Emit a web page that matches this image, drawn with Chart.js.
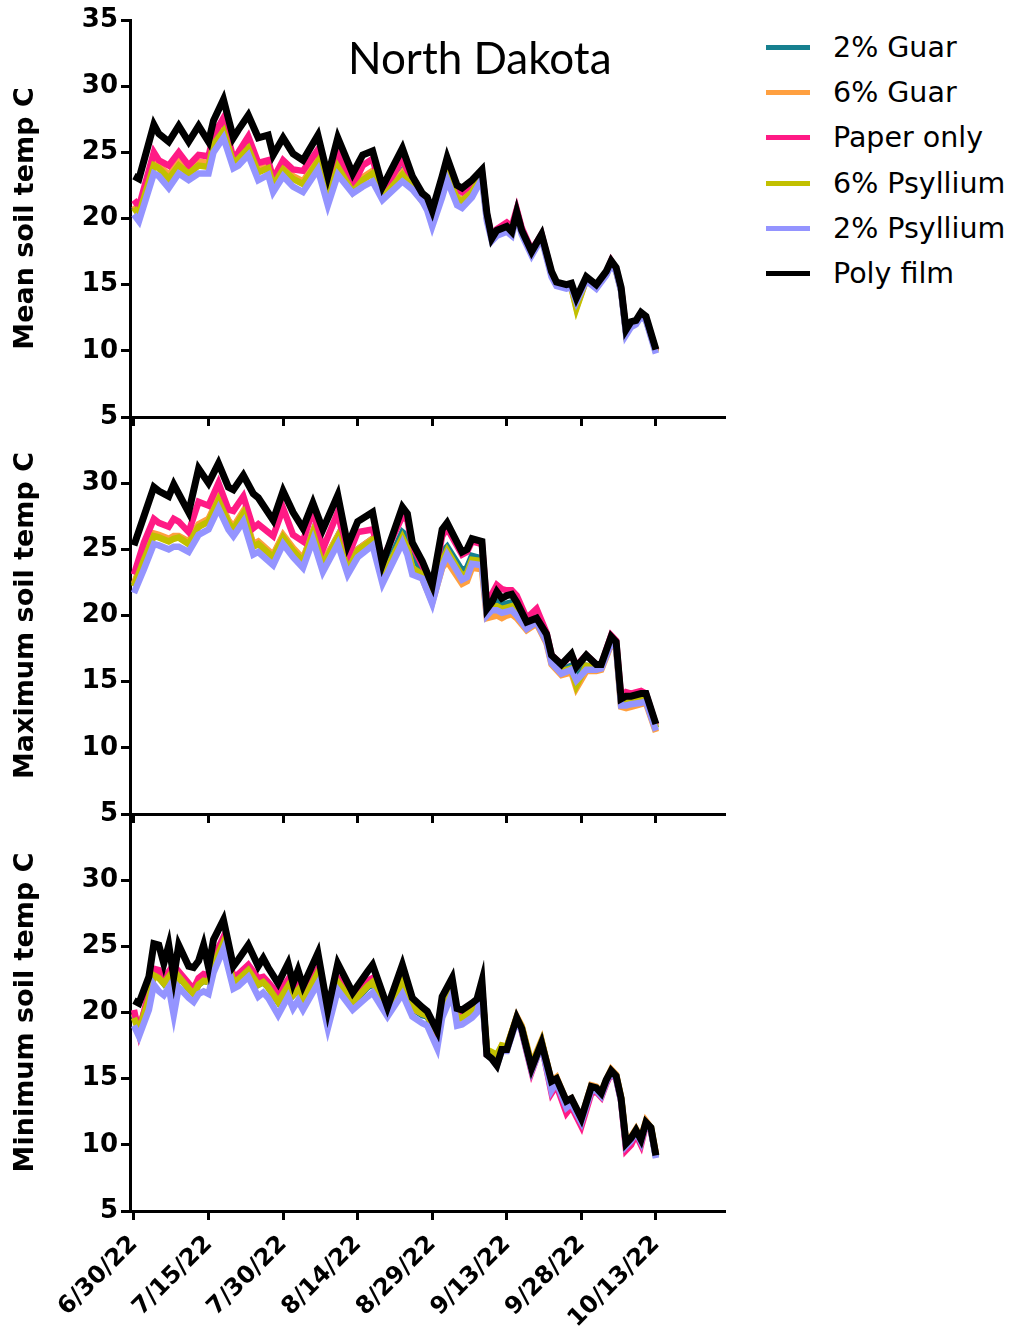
<!DOCTYPE html>
<html>
<head>
<meta charset="utf-8">
<script src="https://cdn.jsdelivr.net/npm/chart.js@4.4.1/dist/chart.umd.min.js"></script>
<style>
  body { margin: 0; background: #fff; width: 1014px; height: 1331px; position: relative; overflow: hidden; }
  canvas { position: absolute; left: 0; }
  #title { position: absolute; left: 348px; top: 35px; font: 44px/44px Lato, sans-serif; color: #000; white-space: nowrap; }
  #legend { position: absolute; left: 766px; top: 25px; }
  .item { display: flex; align-items: center; height: 45.2px; font: 28.5px "DejaVu Sans", sans-serif; color: #000; white-space: nowrap; }
  .swatch { width: 44px; height: 5px; margin-right: 23px; }
</style>
</head>
<body>
<canvas id="meanChart" width="740" height="445" style="top:0px"></canvas>
<canvas id="maxChart" width="740" height="450" style="top:397px"></canvas>
<canvas id="minChart" width="740" height="537" style="top:794px"></canvas>
<div id="title">North Dakota</div>
<div id="legend"></div>

<script>
// series names / colours, in legend order
const names = ['2% Guar', '6% Guar', 'Paper only', '6% Psyllium', '2% Psyllium', 'Poly film'];
const colors = ['#16808f', '#ffa040', '#ff1a85', '#c2c000', '#9494ff', '#000000'];

// x axis: days after 6/30/22
const tickDays = [0, 15, 30, 45, 60, 75, 90, 105];
const tickLabels = ['6/30/22', '7/15/22', '7/30/22', '8/14/22', '8/29/22', '9/13/22', '9/28/22', '10/13/22'];
const yTicks = [5, 10, 15, 20, 25, 30, 35];

// ---- Mean soil temp ----
const meanDays = [0,1,4,5,7,9,11,13,15,16,18,20,21,23,25,27,28,30,32,34,37,39,41,44,46,48,50,54,56,58,59,60,62,63,65,66,68,70,71,72,73,75,76,77,78,80,82,84,85,87,88,89,91,93,95,96,97,98,99,100,101,102,103,105];
const meanGuar2 = [20.9,20.4,24.2,23.9,23.2,24.2,23.5,24.2,24.1,25.7,26.7,24.3,24.6,25.4,23.7,23.9,22.6,23.8,23.1,22.7,24.4,21.6,24.0,22.1,23.0,23.5,21.7,23.6,22.5,21.4,21.0,20.0,22.2,23.3,21.6,21.4,22.1,23.3,20.1,18.6,19.0,19.3,19.0,20.5,19.1,17.4,18.7,15.8,15.1,14.8,14.9,13.6,15.4,14.8,15.8,16.7,16.1,14.6,11.4,12.0,12.2,12.7,12.4,10.0];
const meanGuar6 = [21.0,20.5,24.3,24.0,23.3,24.3,23.6,24.3,24.2,25.8,26.8,24.4,24.7,25.5,23.8,24.0,22.7,23.9,23.2,22.8,24.5,21.7,24.1,22.1,23.1,23.6,21.7,23.5,22.5,21.4,21.0,20.0,22.2,23.4,21.6,21.4,22.1,23.3,20.1,18.5,18.9,19.2,18.9,20.4,19.0,17.4,18.6,15.8,15.0,14.8,14.8,13.3,15.4,14.8,15.8,16.7,16.1,14.6,11.4,12.0,12.1,12.7,12.4,10.0];
const meanPaper = [21.4,20.9,25.0,24.4,24.0,25.0,24.0,24.8,24.7,26.3,27.6,24.5,25.0,26.2,24.2,24.4,23.0,24.4,23.7,23.6,25.2,22.2,24.9,22.4,24.0,24.5,21.9,24.5,22.8,21.4,21.2,20.2,22.6,24.0,22.2,22.0,22.6,23.5,20.3,18.6,19.2,19.7,19.4,20.7,19.3,17.6,18.8,15.9,15.1,14.8,14.9,13.8,15.5,14.9,15.9,16.8,16.2,14.7,11.5,12.0,12.2,12.8,12.5,10.0];
const meanPsyl6 = [20.8,20.3,24.0,23.8,23.0,24.0,23.4,24.0,23.9,25.6,26.6,24.2,24.5,25.3,23.5,23.8,22.5,23.7,23.0,22.6,24.3,21.5,23.9,22.0,22.9,23.4,21.6,23.3,22.4,21.3,20.9,19.9,22.1,23.2,21.5,21.3,22.0,23.2,20.0,18.5,18.9,19.2,18.9,20.4,19.0,17.4,18.6,15.8,15.0,14.8,14.8,13.2,15.4,14.8,15.8,16.7,16.1,14.6,11.4,12.0,12.1,12.7,12.4,9.9];
const meanPsyl2 = [20.3,19.8,23.4,23.2,22.3,23.4,22.9,23.4,23.4,25.0,26.1,23.8,24.0,24.8,22.9,23.3,22.0,23.2,22.4,22.0,23.7,21.0,23.3,21.9,22.4,22.8,21.4,22.8,22.2,21.3,20.6,19.4,21.6,22.9,21.0,20.8,21.6,23.0,19.8,18.3,18.7,19.0,18.7,20.2,18.8,17.2,18.5,15.6,14.9,14.7,14.8,13.7,15.3,14.7,15.7,16.5,16.0,14.5,11.2,11.8,12.0,12.6,12.3,9.8];
const meanPoly = [23.2,23.0,27.1,26.4,25.8,27.0,25.8,27.0,25.8,27.4,29.0,26.1,26.7,27.8,26.1,26.3,24.8,26.1,24.9,24.4,26.3,23.2,26.1,23.4,24.8,25.1,22.4,25.3,23.2,21.9,21.6,20.6,23.2,24.6,22.5,22.3,22.9,23.7,20.4,18.5,19.1,19.4,19.0,20.5,19.1,17.5,18.8,16.0,15.2,15.0,15.1,14.0,15.6,15.0,16.0,16.8,16.3,14.8,11.6,12.2,12.3,12.9,12.6,10.1];

// ---- Maximum soil temp ----
const maxDays = [0,2,4,5,7,8,9,11,13,15,17,19,20,22,24,25,28,30,32,34,36,38,41,43,45,48,50,54,55,56,58,60,62,63,66,67,68,70,71,72,73,74,75,76,77,79,81,83,84,86,88,89,91,93,94,96,97,98,99,100,102,103,105];
const maxGuar2 = [22.3,24.3,26.1,26.0,25.7,25.9,25.9,25.5,26.8,27.2,28.8,27.1,26.6,27.8,25.3,25.5,24.5,26.0,25.0,24.2,26.3,23.9,26.0,23.5,25.0,25.8,23.0,26.3,26.0,24.5,23.4,21.6,24.8,25.2,23.4,23.6,24.5,24.3,20.3,20.8,21.0,20.8,20.9,21.0,20.6,19.3,19.8,18.3,16.7,15.9,16.2,15.3,16.2,16.1,16.2,18.2,17.8,13.4,13.5,13.6,13.7,13.8,11.5];
const maxGuar6 = [22.4,24.4,26.2,26.1,25.8,26.0,26.0,25.6,26.9,27.3,28.9,27.2,26.7,27.9,25.4,25.6,24.6,26.1,25.1,24.3,26.3,24.0,26.0,23.5,25.0,25.8,22.9,25.8,25.0,23.5,22.8,21.0,23.6,24.1,22.4,22.6,23.6,23.5,19.8,19.9,20.0,19.8,20.0,20.1,19.8,18.9,19.4,17.9,16.3,15.5,15.7,14.5,15.8,15.8,15.9,17.8,17.5,13.1,13.0,13.1,13.3,13.4,11.2];
const maxPaper = [23.1,25.5,27.3,27.0,26.7,27.3,27.1,26.3,28.6,28.3,30.0,28.0,27.9,29.0,26.6,26.9,26.0,28.1,26.1,25.6,28.0,25.0,27.8,24.4,26.3,26.5,24.2,27.5,27.2,25.3,23.8,22.2,26.0,26.6,24.6,24.8,25.6,25.4,20.8,21.6,22.3,22.0,21.9,21.9,21.5,19.8,20.5,18.7,17.0,16.3,17.0,16.2,17.0,16.3,16.3,18.5,18.1,13.8,14.2,14.1,14.3,14.1,11.7];
const maxPsyl6 = [22.2,24.2,26.0,25.9,25.6,25.8,25.9,25.4,26.7,27.1,28.7,27.0,26.5,27.7,25.2,25.4,24.4,25.9,24.9,24.1,26.2,23.8,25.9,23.4,24.9,25.7,22.8,25.9,25.1,23.6,23.1,21.4,24.1,24.9,23.0,23.2,24.2,24.1,20.2,20.6,20.7,20.5,20.6,20.7,20.3,19.2,19.7,18.2,16.6,15.8,16.0,14.7,16.2,16.1,16.2,18.1,17.8,13.4,13.5,13.6,13.7,13.7,11.5];
const maxPsyl2 = [21.7,23.5,25.4,25.3,25.0,25.2,25.2,24.8,26.1,26.5,28.1,26.5,26.0,27.1,24.6,24.8,23.8,25.4,24.4,23.6,25.7,23.3,25.4,23.1,24.4,25.3,22.4,25.5,24.6,23.1,22.8,20.9,23.7,24.6,22.7,22.9,23.9,23.8,20.0,20.4,20.4,20.2,20.3,20.4,20.0,19.0,19.5,18.0,16.4,15.6,15.9,15.1,15.9,15.9,16.0,17.9,17.6,13.2,13.2,13.3,13.4,13.5,11.3];
const maxPoly = [25.3,27.5,29.7,29.4,29.0,29.9,29.2,27.8,31.1,30.0,31.5,29.7,29.5,30.6,29.2,28.9,27.2,29.4,27.8,26.6,28.5,26.5,29.1,25.3,27.1,27.8,23.9,28.2,27.7,25.5,24.1,22.3,26.5,27.0,24.8,25.0,25.8,25.6,20.5,21.0,21.8,21.3,21.5,21.6,21.0,19.5,19.8,18.6,17.0,16.3,17.1,16.1,17.0,16.3,16.3,18.4,18.0,13.7,13.9,13.9,14.1,14.1,11.8];

// ---- Minimum soil temp ----
const minDays = [0,1,3,4,5,6,7,8,9,11,12,13,14,15,16,18,20,21,23,25,26,27,29,31,32,33,34,37,39,41,44,47,48,51,54,56,58,59,61,62,64,65,66,68,69,70,71,72,73,74,75,77,78,80,82,84,85,87,88,90,92,93,94,95,96,97,98,99,100,101,102,103,104,105];
const minGuar2 = [19.8,18.7,21.1,22.9,22.7,22.2,22.7,21.6,22.7,21.8,21.4,22.1,22.4,22.3,23.7,25.3,22.3,22.5,23.2,22.1,22.3,21.9,20.8,22.0,21.3,21.7,20.9,22.9,19.7,22.2,20.7,21.9,22.2,19.9,22.2,20.3,19.8,19.7,18.3,20.2,21.9,19.5,19.5,20.0,20.3,21.7,16.9,16.8,16.4,17.4,17.3,19.6,18.9,15.9,17.8,14.6,15.0,13.1,13.4,11.8,14.3,14.2,13.9,14.8,15.6,15.2,13.5,10.0,10.4,11.0,10.3,11.6,11.2,9.1];
const minGuar6 = [19.9,18.8,21.2,23.0,22.8,22.3,22.8,21.8,22.8,21.9,21.5,22.2,22.5,22.4,23.8,25.4,22.4,22.6,23.3,22.2,22.4,22.0,20.9,22.1,21.4,21.8,21.0,23.0,19.7,22.3,20.8,22.0,22.3,20.0,22.3,20.3,19.9,19.8,18.4,20.2,21.9,19.5,19.5,20.0,20.3,21.7,17.0,16.9,16.6,17.5,17.4,19.7,19.0,16.1,17.9,14.8,15.1,13.3,13.5,12.0,14.5,14.4,14.0,14.9,15.7,15.3,13.6,10.2,10.6,11.2,10.5,11.8,11.3,9.3];
const minPaper = [20.2,18.5,21.5,23.3,23.2,22.6,23.1,22.5,23.1,22.2,21.8,22.6,22.9,22.8,24.1,25.7,22.7,22.9,23.6,22.6,22.7,22.3,21.4,22.5,21.8,22.1,21.3,23.3,20.1,22.6,21.1,22.4,22.6,20.2,22.7,20.6,20.2,20.0,18.3,20.6,22.3,20.0,19.9,20.4,20.6,22.0,16.8,16.6,16.1,17.3,17.2,19.5,18.6,15.5,17.6,13.9,14.5,12.4,12.9,11.4,13.9,14.0,13.6,14.6,15.4,15.0,13.3,9.6,10.0,10.8,10.0,11.5,11.1,9.2];
const minPsyl6 = [19.6,18.6,21.0,22.8,22.6,22.2,22.7,21.5,22.7,21.8,21.4,22.1,22.4,22.3,23.6,25.3,22.3,22.5,23.2,22.1,22.3,21.9,20.8,22.0,21.3,21.7,20.9,23.0,19.8,22.3,20.8,22.0,22.3,20.0,22.3,20.4,19.9,19.8,18.5,20.3,22.0,19.6,19.6,20.1,20.4,21.8,17.2,17.0,16.8,17.5,17.4,19.6,18.9,16.0,17.8,14.7,15.0,13.2,13.4,11.9,14.4,14.3,13.9,14.8,15.6,15.2,13.5,10.1,10.5,11.1,10.4,11.7,11.3,9.2];
const minPsyl2 = [19.0,18.2,20.2,22.1,21.6,21.3,21.9,19.8,21.9,21.1,20.8,21.4,21.6,21.4,23.0,24.8,21.8,22.0,22.7,21.2,21.5,21.1,19.8,21.2,20.3,20.9,20.2,22.2,18.8,21.7,20.2,21.2,21.5,19.7,21.4,19.7,19.2,19.0,17.3,19.6,21.4,19.0,19.1,19.6,20.0,21.3,16.8,16.5,16.0,17.1,17.1,19.4,18.6,15.6,17.5,14.1,14.7,12.8,13.1,11.7,14.1,14.1,13.7,14.7,15.5,15.0,13.3,9.9,10.3,11.0,10.2,11.6,11.1,9.0];
const minPoly = [20.9,20.7,22.7,25.2,25.1,23.7,25.1,22.7,25.1,23.5,23.4,23.9,25.1,23.4,25.5,27.0,23.5,24.0,25.1,23.5,24.1,23.4,22.2,23.7,22.2,23.2,22.0,24.5,20.2,23.7,21.5,23.1,23.6,20.4,23.6,21.1,20.4,20.1,18.6,21.2,22.6,20.3,20.2,20.7,21.0,22.4,16.8,16.5,16.0,17.2,17.2,19.6,18.8,15.8,17.7,14.8,15.0,13.3,13.5,12.0,14.4,14.3,13.9,14.9,15.6,15.2,13.5,10.1,10.5,11.1,10.4,11.7,11.3,9.2];

const boldFont = size => ({ family: '"DejaVu Sans", sans-serif', weight: 'bold', size });

function makePanel(id, days, seriesList, yTitle, cfg) {
  const datasets = seriesList.map((vals, i) => ({
    label: names[i],
    data: days.map((d, k) => ({ x: d, y: vals[k] })),
    borderColor: colors[i],
    backgroundColor: colors[i],
    borderWidth: i === 5 ? 7 : 6.5,
    pointRadius: 0,
    tension: 0,
    order: seriesList.length - 1 - i   // Poly film drawn last, on top
  }));

  return new Chart(document.getElementById(id), {
    type: 'line',
    data: { datasets },
    options: {
      responsive: false,
      animation: false,
      layout: { padding: { top: 20, right: 16, left: 0, bottom: 0 } },
      plugins: { legend: { display: false }, tooltip: { enabled: false } },
      scales: {
        x: {
          type: 'linear',
          min: -0.8,
          max: 118.7,
          afterBuildTicks: s => { s.ticks = tickDays.map(v => ({ value: v })); },
          afterFit: s => { s.height = cfg.xHeight; },
          border: { color: '#000', width: 3 },
          grid: { drawOnChartArea: false, color: '#000', lineWidth: 3, tickLength: 9 },
          ticks: {
            display: cfg.showDates,
            autoSkip: false,
            minRotation: 45,
            maxRotation: 45,
            padding: 10,
            color: '#000',
            font: boldFont(24),
            callback: v => tickLabels[tickDays.indexOf(v)]
          }
        },
        y: {
          min: 5,
          max: 35,
          afterBuildTicks: s => { s.ticks = cfg.yTicks.map(v => ({ value: v })); },
          afterFit: s => { s.width = 130; },
          border: { color: '#000', width: 3 },
          grid: { drawOnChartArea: false, color: '#000', lineWidth: 3, tickLength: 9 },
          ticks: { padding: 3, color: '#000', font: boldFont(26) },
          title: {
            display: true,
            text: yTitle,
            color: '#000',
            font: boldFont(27),
            padding: { top: 10, bottom: 0 }
          }
        }
      }
    }
  });
}

makePanel('meanChart', meanDays, [meanGuar2, meanGuar6, meanPaper, meanPsyl6, meanPsyl2, meanPoly],
  'Mean soil temp C', { xHeight: 28, showDates: false, yTicks: yTicks });
makePanel('maxChart', maxDays, [maxGuar2, maxGuar6, maxPaper, maxPsyl6, maxPsyl2, maxPoly],
  'Maximum soil temp C', { xHeight: 33, showDates: false, yTicks: yTicks.slice(0, -1) });
makePanel('minChart', minDays, [minGuar2, minGuar6, minPaper, minPsyl6, minPsyl2, minPoly],
  'Minimum soil temp C', { xHeight: 120, showDates: true, yTicks: yTicks.slice(0, -1) });

// legend, built from the same names / colours
const legend = document.getElementById('legend');
names.forEach((name, i) => {
  const row = document.createElement('div');
  row.className = 'item';
  row.innerHTML = `<span class="swatch" style="background:${colors[i]}"></span><span>${name}</span>`;
  legend.appendChild(row);
});
</script>
</body>
</html>
